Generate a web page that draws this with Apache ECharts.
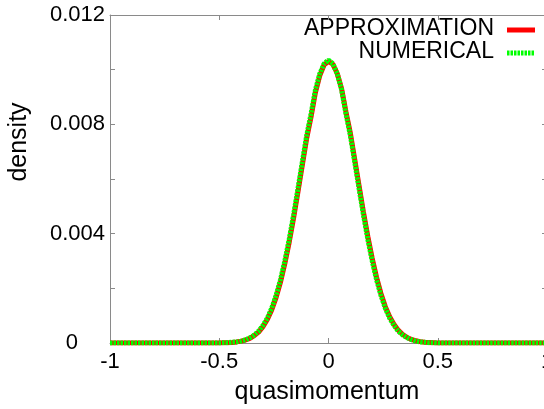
<!DOCTYPE html>
<html>
<head>
<meta charset="utf-8">
<script src="https://cdn.jsdelivr.net/npm/echarts@6/dist/echarts.min.js"></script>
<style>
  html, body { margin: 0; padding: 0; background: #fff; }
  #chart { width: 544px; height: 409px; }
</style>
</head>
<body>
<div id="chart"></div>
<script>
// Quasimomentum grid shared by both curves
const quasimomentum = [
  -1.00, -0.98, -0.96, -0.94, -0.92, -0.90, -0.88, -0.86, -0.84, -0.82,
  -0.80, -0.78, -0.76, -0.74, -0.72, -0.70, -0.68, -0.66, -0.64, -0.62,
  -0.60, -0.58, -0.56, -0.54, -0.52, -0.50, -0.48, -0.46, -0.44, -0.42,
  -0.40, -0.38, -0.36, -0.34, -0.32, -0.30, -0.28, -0.26, -0.24, -0.22,
  -0.20, -0.18, -0.16, -0.14, -0.12, -0.10, -0.08, -0.06, -0.04, -0.02,
   0.00,
   0.02,  0.04,  0.06,  0.08,  0.10,  0.12,  0.14,  0.16,  0.18,  0.20,
   0.22,  0.24,  0.26,  0.28,  0.30,  0.32,  0.34,  0.36,  0.38,  0.40,
   0.42,  0.44,  0.46,  0.48,  0.50,  0.52,  0.54,  0.56,  0.58,  0.60,
   0.62,  0.64,  0.66,  0.68,  0.70,  0.72,  0.74,  0.76,  0.78,  0.80,
   0.82,  0.84,  0.86,  0.88,  0.90,  0.92,  0.94,  0.96,  0.98,  1.00
];

// Analytic approximation of the density
const approximation = [
  0, 0, 0, 0, 0, 0, 0, 0, 0, 0,
  0, 0, 0, 0, 0, 0, 0, 0, 0, 0,
  0, 0, 0, 0, 0, 0, 0.00001, 0.00001, 0.00002, 0.00004,
  0.00007, 0.00011, 0.00017, 0.00027, 0.00040, 0.00060, 0.00086, 0.00121, 0.00166, 0.00222,
  0.00290, 0.00368, 0.00456, 0.00552, 0.00650, 0.00748, 0.00827, 0.00916, 0.00978, 0.01018,
  0.01030,
  0.01020, 0.00986, 0.00930, 0.00845, 0.00768, 0.00672, 0.00575, 0.00479, 0.00390, 0.00310,
  0.00240, 0.00181, 0.00133, 0.00096, 0.00068, 0.00046, 0.00031, 0.00020, 0.00013, 0.00008,
  0.00005, 0.00003, 0.00002, 0.00001, 0, 0, 0, 0, 0, 0,
  0, 0, 0, 0, 0, 0, 0, 0, 0, 0,
  0, 0, 0, 0, 0, 0, 0, 0, 0, 0
];

// Numerically computed density
const numerical = [
  0, 0, 0, 0, 0, 0, 0, 0, 0, 0,
  0, 0, 0, 0, 0, 0, 0, 0, 0, 0,
  0, 0, 0, 0, 0, 0, 0.00001, 0.00001, 0.00003, 0.00004,
  0.00007, 0.00012, 0.00019, 0.00029, 0.00043, 0.00064, 0.00091, 0.00127, 0.00174, 0.00231,
  0.00300, 0.00379, 0.00468, 0.00564, 0.00662, 0.00759, 0.00838, 0.00926, 0.00985, 0.01022,
  0.01035,
  0.01022, 0.00985, 0.00926, 0.00838, 0.00759, 0.00662, 0.00564, 0.00468, 0.00379, 0.00300,
  0.00231, 0.00174, 0.00127, 0.00091, 0.00064, 0.00043, 0.00029, 0.00019, 0.00012, 0.00007,
  0.00004, 0.00003, 0.00001, 0.00001, 0, 0, 0, 0, 0, 0,
  0, 0, 0, 0, 0, 0, 0, 0, 0, 0,
  0, 0, 0, 0, 0, 0, 0, 0, 0, 0
];

const seriesNames = ['APPROXIMATION', 'NUMERICAL'];
const xTitle = 'quasimomentum';
const yTitle = 'density';

const FONT = '"Liberation Sans", Arial, sans-serif';
const AXIS_GREY = '#8a8a8a';
const RED = '#ff0000';
const GREEN = '#00ff00';
const GREEN_DASH = [2.5, 1];

const pairs = (ys) => quasimomentum.map((x, i) => [x, ys[i]]);

const boxAxisLine = { show: true, onZero: false, lineStyle: { color: AXIS_GREY, width: 1 } };
const boxTick = { show: true, inside: true, length: 5, lineStyle: { color: AXIS_GREY, width: 1 } };

const chart = echarts.init(document.getElementById('chart'), null, { renderer: 'canvas' });

// Key in the upper right corner: right-aligned labels with line samples after them
function keyEntry(label, y, lineStyle) {
  return [
    {
      type: 'text', x: 494, y: y,
      style: { text: label, fontSize: 23, fontFamily: FONT, fill: '#000', align: 'right', verticalAlign: 'middle' }
    },
    {
      type: 'line',
      shape: { x1: 507, y1: y + 1, x2: 535, y2: y + 1 },
      style: lineStyle
    }
  ];
}

chart.setOption({
  animation: false,
  backgroundColor: '#ffffff',
  textStyle: { fontFamily: FONT },
  grid: { left: 110, right: -3, top: 15, bottom: 66, containLabel: false, outerBoundsMode: 'none' },
  xAxis: [
    {
      type: 'value', position: 'bottom', min: -1, max: 1, interval: 0.5,
      axisLine: boxAxisLine, axisTick: boxTick, splitLine: { show: false },
      axisLabel: { fontSize: 22, color: '#000', margin: 8, fontFamily: FONT, hideOverlap: false }
    },
    {
      type: 'value', position: 'top', min: -1, max: 1, interval: 0.5,
      axisLine: boxAxisLine, axisTick: boxTick, splitLine: { show: false },
      axisLabel: { show: false }
    }
  ],
  yAxis: [
    {
      type: 'value', position: 'left', min: 0, max: 0.012, interval: 0.004,
      axisLine: boxAxisLine, axisTick: boxTick, splitLine: { show: false },
      minorTick: { show: true, splitNumber: 2, length: 5, lineStyle: { color: AXIS_GREY, width: 1 } },
      minorSplitLine: { show: false },
      axisLabel: {
        fontSize: 22, color: '#000', margin: 5, fontFamily: FONT,
        formatter: (v) => (Math.abs(v) < 1e-9 ? '{z|0}' : v.toFixed(3)),
        rich: { z: { fontSize: 22, fontFamily: FONT, color: '#000', padding: [0, 27, 0, 0] } }
      }
    },
    {
      type: 'value', position: 'right', min: 0, max: 0.012, interval: 0.004,
      axisLine: boxAxisLine, axisTick: boxTick, splitLine: { show: false },
      minorTick: { show: true, splitNumber: 2, length: 5, lineStyle: { color: AXIS_GREY, width: 1 } },
      minorSplitLine: { show: false },
      axisLabel: { show: false }
    }
  ],
  series: [
    {
      name: seriesNames[0],
      type: 'line',
      data: pairs(approximation),
      showSymbol: false, symbol: 'none',
      lineStyle: { color: RED, width: 5 },
      itemStyle: { color: RED },
      z: 2
    },
    {
      name: seriesNames[1],
      type: 'line',
      data: pairs(numerical),
      showSymbol: false, symbol: 'none',
      lineStyle: { color: GREEN, width: 5, type: GREEN_DASH },
      itemStyle: { color: GREEN },
      z: 3
    }
  ],
  graphic: [
    ...keyEntry(seriesNames[0], 29, { stroke: RED, lineWidth: 5 }),
    ...keyEntry(seriesNames[1], 52, { stroke: GREEN, lineWidth: 5, lineDash: GREEN_DASH }),
    {
      type: 'text', x: 19, y: 142, rotation: Math.PI / 2,
      style: { text: yTitle, fontSize: 25, fontFamily: FONT, fill: '#000', align: 'center', verticalAlign: 'middle' }
    },
    {
      type: 'text', x: 327, y: 392,
      style: { text: xTitle, fontSize: 25, fontFamily: FONT, fill: '#000', align: 'center', verticalAlign: 'middle' }
    }
  ]
});
</script>
</body>
</html>
